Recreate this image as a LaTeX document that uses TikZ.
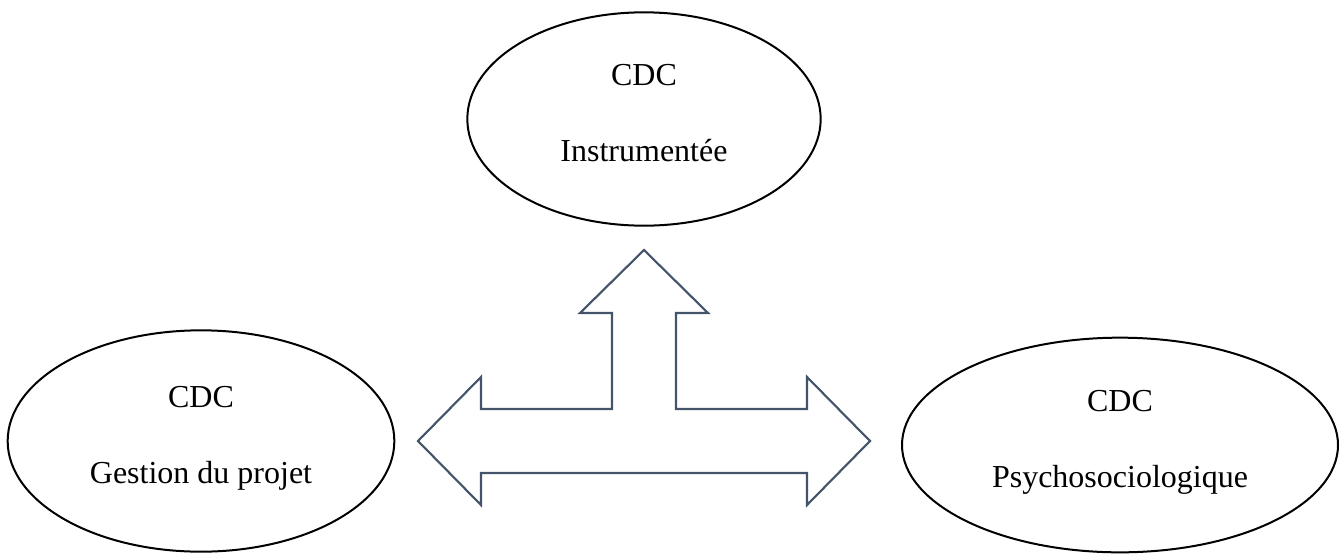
\documentclass[tikz,border=0pt]{standalone}
\usepackage{fontspec}
\setmainfont{Liberation Serif}
\usetikzlibrary{shapes.geometric}
\definecolor{arrowgrey}{HTML}{44546A}

\begin{document}
\begin{tikzpicture}[x=0.75pt,y=-0.75pt,
  cdc/.style={draw=black,line width=1.5pt,ellipse,inner sep=0pt,align=center,
    text depth=9.5pt,font=\fontsize{24}{57}\selectfont},
  triarrow/.style={draw=arrowgrey,line width=1.6pt,line join=miter}]
\useasboundingbox (0,0) rectangle (1341,554);

% the three ellipses
\node[cdc,minimum width=265pt,minimum height=160pt] (instr) at (644,119) {CDC\\Instrumentée};
\node[cdc,minimum width=290pt,minimum height=166pt] (gestion) at (201,441) {CDC\\Gestion du projet};
\node[cdc,minimum width=327pt,minimum height=161pt] (psycho) at (1120,445) {CDC\\Psychosociologique};

% three-headed arrow
\draw[triarrow] (644,250) -- (708,313) -- (676,313) -- (676,409) -- (807,409)
  -- (807,377) -- (870,441) -- (807,505) -- (807,473) -- (481,473) -- (481,505)
  -- (418,441) -- (481,377) -- (481,409) -- (612,409) -- (612,313) -- (580,313) -- cycle;
\end{tikzpicture}
\end{document}
